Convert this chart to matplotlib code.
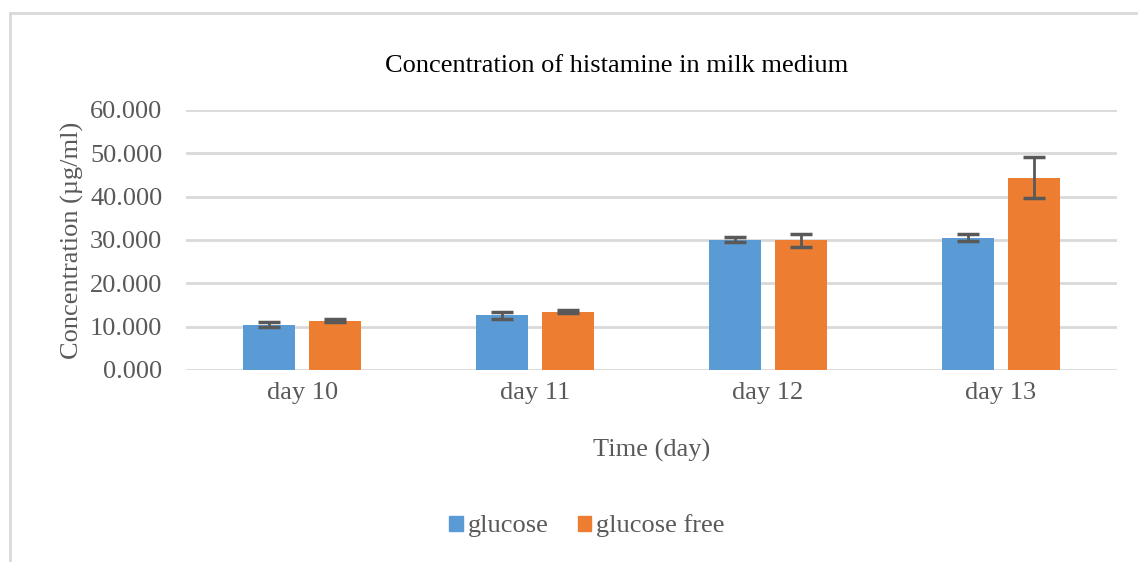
import numpy as np
import matplotlib
matplotlib.use("Agg")
import matplotlib.pyplot as plt
from matplotlib.lines import Line2D

plt.rcParams['font.family'] = ['Liberation Serif', 'DejaVu Serif']

days = ['day 10', 'day 11', 'day 12', 'day 13']
glucose = [10.5, 12.6, 30.1, 30.5]
glucose_err = [0.5, 0.8, 0.6, 0.8]
glucose_free = [11.4, 13.5, 29.9, 44.4]
glucose_free_err = [0.3, 0.3, 1.4, 4.8]

blue = '#5b9bd5'
orange = '#ed7d31'
grid_c = '#d9d9d9'
text_c = '#595959'

fig = plt.figure(figsize=(11.38, 5.62), dpi=100)
ax = fig.add_axes([186 / 1138, 1 - 370 / 562, 931 / 1138, 260 / 562])

x = np.arange(len(days))
w = 0.223
off = 0.1416
ax.bar(x - off, glucose, w, color=blue, zorder=3)
ax.bar(x + off, glucose_free, w, color=orange, zorder=3)
ax.errorbar(x - off, glucose, yerr=glucose_err, fmt='none', ecolor='#595959',
            elinewidth=2, capsize=8, capthick=2.5, zorder=4)
ax.errorbar(x + off, glucose_free, yerr=glucose_free_err, fmt='none', ecolor='#595959',
            elinewidth=2, capsize=8, capthick=2.5, zorder=4)

ax.set_xlim(-0.5, 3.5)
ax.set_ylim(0, 60)
ax.set_yticks(np.arange(0, 61, 10))
ax.set_yticklabels([f'{v:.3f}' for v in range(0, 61, 10)])
ax.set_xticks(x)
ax.set_xticklabels(days)
ax.yaxis.grid(True, color=grid_c, linewidth=2, zorder=0)
ax.set_axisbelow(True)
for s in ax.spines.values():
    s.set_visible(False)
ax.tick_params(length=0, labelsize=19, colors=text_c)
ax.tick_params(axis='x', pad=9)
ax.tick_params(axis='y', pad=17)

ax.set_ylabel('Concentration (µg/ml)', fontsize=19, color=text_c, labelpad=4)
ax.set_xlabel('Time (day)', fontsize=19, color=text_c, labelpad=25)
fig.text(617 / 1138, 1 - 66 / 562, 'Concentration of histamine in milk medium',
         fontsize=19, color='#000000', ha='center', va='center')

handles = [plt.Rectangle((0, 0), 1, 1, color=blue), plt.Rectangle((0, 0), 1, 1, color=orange)]
fig.legend(handles, ['glucose', 'glucose free'], loc='center', ncol=2,
           bbox_to_anchor=(587 / 1138, 1 - 526 / 562), frameon=False,
           fontsize=19, handlelength=0.5, handleheight=0.5, handletextpad=0.2,
           columnspacing=1.1, labelcolor=text_c)

# chart frame (top and left edges visible)
fig.add_artist(Line2D([10 / 1138, 1.0], [1 - 13 / 562, 1 - 13 / 562],
                      transform=fig.transFigure, color=grid_c, linewidth=2))
fig.add_artist(Line2D([10 / 1138, 10 / 1138], [0, 1 - 13 / 562],
                      transform=fig.transFigure, color=grid_c, linewidth=2))

fig.savefig('out.png', dpi=100)
